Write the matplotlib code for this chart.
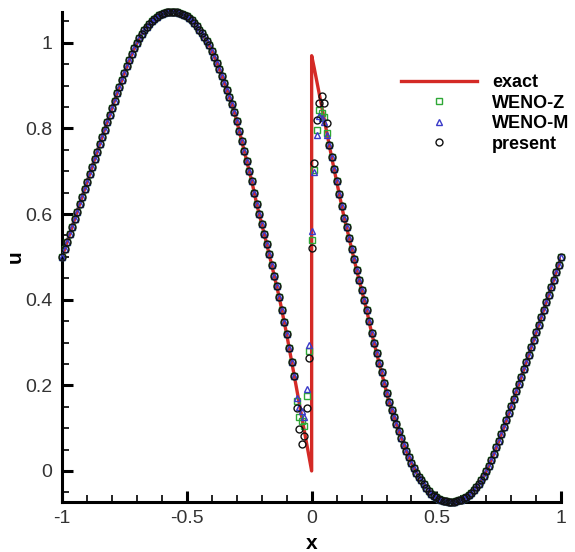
import numpy as np
import matplotlib
matplotlib.use('Agg')
import matplotlib.pyplot as plt
from matplotlib.ticker import MultipleLocator

plt.rcParams['font.family'] = ['Liberation Sans', 'DejaVu Sans']

# grid nodes, spacing 0.01
x_left = np.round(np.arange(-100, 0) / 100, 2)
x_right = np.round(np.arange(1, 101) / 100, 2)

# exact solution, x = -1.00 ... -0.01
u_left = [
    0.500, 0.518, 0.535, 0.553, 0.570, 0.588, 0.605, 0.623, 0.640, 0.658,
    0.675, 0.693, 0.710, 0.728, 0.745, 0.763, 0.780, 0.797, 0.814, 0.831,
    0.848, 0.865, 0.882, 0.898, 0.914, 0.930, 0.945, 0.960, 0.974, 0.988,
    1.000, 1.011, 1.021, 1.030, 1.038, 1.045, 1.051, 1.056, 1.060, 1.064,
    1.067, 1.069, 1.071, 1.072, 1.072, 1.072, 1.071, 1.070, 1.068, 1.065,
    1.062, 1.058, 1.053, 1.047, 1.039, 1.031, 1.022, 1.013, 1.004, 0.994,
    0.982, 0.968, 0.954, 0.939, 0.923, 0.907, 0.891, 0.874, 0.857, 0.839,
    0.817, 0.794, 0.770, 0.747, 0.724, 0.701, 0.677, 0.650, 0.623, 0.600,
    0.577, 0.553, 0.530, 0.506, 0.481, 0.456, 0.431, 0.406, 0.377, 0.348,
    0.319, 0.287, 0.255, 0.222, 0.190, 0.158, 0.126, 0.095, 0.063, 0.032,
]
# x = 0.01 ... 1.00
u_right = [
    0.942, 0.912, 0.882, 0.852, 0.822, 0.792, 0.762, 0.733, 0.705, 0.677,
    0.648, 0.620, 0.592, 0.569, 0.544, 0.519, 0.494, 0.470, 0.447, 0.423,
    0.400, 0.377, 0.350, 0.323, 0.299, 0.276, 0.253, 0.230, 0.206, 0.183,
    0.161, 0.143, 0.126, 0.109, 0.093, 0.077, 0.061, 0.046, 0.032, 0.018,
    0.006, -0.004, -0.013, -0.022, -0.031, -0.039, -0.047, -0.053, -0.058, -0.062,
    -0.065, -0.068, -0.070, -0.071, -0.072, -0.072, -0.072, -0.071, -0.069, -0.067,
    -0.064, -0.060, -0.056, -0.051, -0.045, -0.038, -0.030, -0.021, -0.011, 0.000,
    0.012, 0.026, 0.040, 0.055, 0.070, 0.086, 0.102, 0.118, 0.135, 0.152,
    0.169, 0.186, 0.203, 0.220, 0.237, 0.255, 0.272, 0.290, 0.307, 0.325,
    0.342, 0.360, 0.377, 0.395, 0.412, 0.430, 0.447, 0.465, 0.482, 0.500,
]
shock_low = 0.0
shock_high = 0.97

# numerical values near the shock, x = -0.06 ... 0.06
shock_x = np.round(np.arange(-6, 7) / 100, 2)
weno_z_shock = [0.164, 0.127, 0.117, 0.105, 0.174, 0.281, 0.540,
                0.704, 0.797, 0.842, 0.835, 0.826, 0.790]
weno_m_shock = [0.171, 0.150, 0.140, 0.125, 0.192, 0.295, 0.560,
                0.698, 0.785, 0.830, 0.825, 0.815, 0.785]
present_shock = [0.148, 0.098, 0.064, 0.081, 0.146, 0.264, 0.520,
                 0.720, 0.820, 0.860, 0.877, 0.859, 0.812]

xtick_vals = [-1, -0.5, 0, 0.5, 1]
xtick_labels = ['-1', '-0.5', '0', '0.5', '1']
ytick_vals = [0, 0.2, 0.4, 0.6, 0.8, 1]
ytick_labels = ['0', '0.2', '0.4', '0.6', '0.8', '1']


def scheme_values(shock_vals):
    x = np.concatenate([x_left, [0.0], x_right])
    u = np.concatenate([u_left, [np.nan], u_right])
    for xs, us in zip(shock_x, shock_vals):
        u[np.isclose(x, xs)] = us
    return x, u


fig = plt.figure(figsize=(5.75, 5.52), dpi=100)
ax = fig.add_axes([0.108, 0.0906, 0.868, 0.888])

x_exact = np.concatenate([x_left, [0.0, 0.0], x_right])
u_exact = np.concatenate([u_left, [shock_low, shock_high], u_right])
ax.plot(x_exact, u_exact, color='#d42a26', lw=2.4, label='exact', zorder=2)

xz, uz = scheme_values(weno_z_shock)
xm, um = scheme_values(weno_m_shock)
xp, up = scheme_values(present_shock)
ax.plot(xz, uz, ls='none', marker='s', ms=3.8, mfc='none', mec='#2ea836',
        mew=1.0, label='WENO-Z', zorder=3, clip_on=False)
ax.plot(xm, um, ls='none', marker='^', ms=4.2, mfc='none', mec='#3a3ac8',
        mew=1.0, label='WENO-M', zorder=4, clip_on=False)
ax.plot(xp, up, ls='none', marker='o', ms=5.0, mfc='none', mec='#111111',
        mew=1.0, label='present', zorder=5, clip_on=False)

ax.set_xlim(-1, 1)
ax.set_ylim(-0.0725, 1.0725)
for side in ['top', 'right']:
    ax.spines[side].set_visible(False)
for side in ['left', 'bottom']:
    ax.spines[side].set_linewidth(2.2)

ax.set_xticks(xtick_vals)
ax.set_xticklabels(xtick_labels)
ax.set_yticks(ytick_vals)
ax.set_yticklabels(ytick_labels)
ax.xaxis.set_minor_locator(MultipleLocator(0.1))
ax.yaxis.set_minor_locator(MultipleLocator(0.05))
ax.tick_params(which='major', direction='in', length=8, width=2.2,
               labelsize=14, labelcolor='#333333')
ax.tick_params(axis='x', which='major', pad=6)
ax.tick_params(axis='y', which='major', pad=7)
ax.tick_params(which='minor', direction='in', length=5, width=1.2)

ax.set_xlabel('x', fontsize=15, fontweight='bold', labelpad=5)
ax.set_ylabel('u', fontsize=15, fontweight='bold', labelpad=0)

leg = ax.legend(loc='upper left', bbox_to_anchor=(0.697, 0.866),
                bbox_transform=fig.transFigure, frameon=False,
                prop={'weight': 'bold', 'size': 13}, handlelength=4.2,
                handletextpad=0.85, labelspacing=0.2, numpoints=1,
                borderpad=0, borderaxespad=0)

fig.savefig('out.png', dpi=100)
